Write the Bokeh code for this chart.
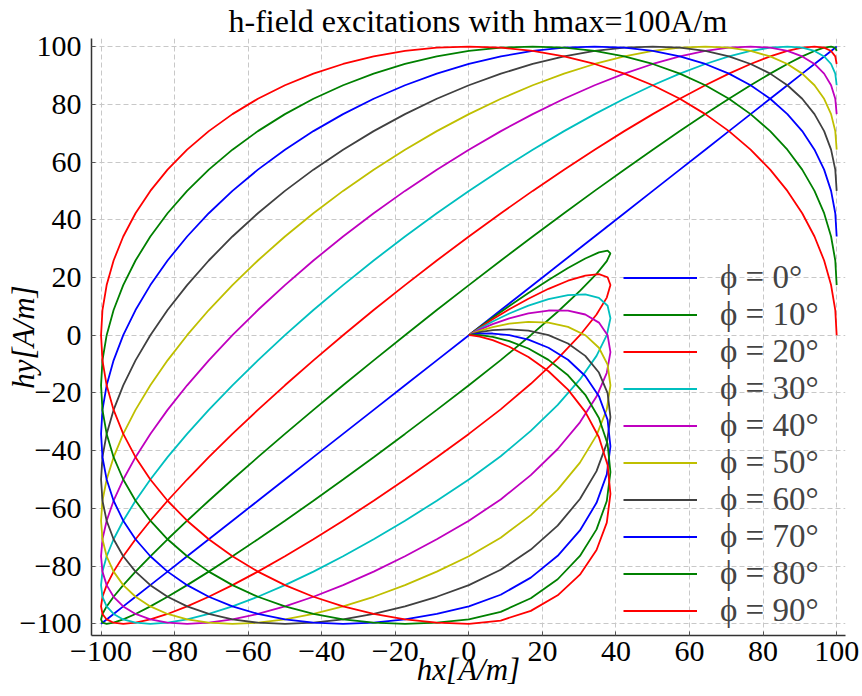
from bokeh.plotting import figure
from bokeh.models import Legend, LegendItem, FixedTicker, Range1d
from bokeh.embed import file_html
from bokeh.resources import INLINE

# ---- data ----
phi_deg = [0, 10, 20, 30, 40, 50, 60, 70, 80, 90]
colors = ["#0000ff", "#008000", "#ff0000", "#00bfbf", "#bf00bf",
          "#bfbf00", "#404040", "#0000ff", "#008000", "#ff0000"]
ticks = [-100, -80, -60, -40, -20, 0, 20, 40, 60, 80, 100]
tick_labels = ["\u2212100", "\u221280", "\u221260", "\u221240", "\u221220",
               "0", "20", "40", "60", "80", "100"]

hx = [0, 0.76, 2.97, 6.47, 10.99, 16.19, 21.65, 26.95, 31.65, 35.36, 37.72, 38.49, 37.5, 34.71, 30.2, 24.15, 16.84, 8.65, 0,
      -8.72, -17.36, -25.88, -34.2, -42.26, -50, -57.36, -64.28, -70.71, -76.6, -81.92, -86.6, -90.63, -93.97, -96.59, -98.48, -99.62, -100,
      -99.62, -98.48, -96.59, -93.97, -90.63, -86.6, -81.92, -76.6, -70.71, -64.28, -57.36, -50, -42.26, -34.2, -25.88, -17.36, -8.72, 0,
      8.72, 17.36, 25.88, 34.2, 42.26, 50, 57.36, 64.28, 70.71, 76.6, 81.92, 86.6, 90.63, 93.97, 96.59, 98.48, 99.62, 100]

hy_00 = [0, 0.76, 2.97, 6.47, 10.99, 16.19, 21.65, 26.95, 31.65, 35.36, 37.72, 38.49, 37.5, 34.71, 30.2, 24.15, 16.84, 8.65, 0,
         -8.72, -17.36, -25.88, -34.2, -42.26, -50, -57.36, -64.28, -70.71, -76.6, -81.92, -86.6, -90.63, -93.97, -96.59, -98.48, -99.62, -100,
         -99.62, -98.48, -96.59, -93.97, -90.63, -86.6, -81.92, -76.6, -70.71, -64.28, -57.36, -50, -42.26, -34.2, -25.88, -17.36, -8.72, 0,
         8.72, 17.36, 25.88, 34.2, 42.26, 50, 57.36, 64.28, 70.71, 76.6, 81.92, 86.6, 90.63, 93.97, 96.59, 98.48, 99.62, 100]

hy_10 = [0, 0.73, 2.83, 6.07, 10.13, 14.63, 19.15, 23.26, 26.56, 28.68, 29.34, 28.36, 25.65, 21.26, 15.33, 8.13, 0, -8.65, -17.36,
         -25.88, -34.2, -42.26, -50, -57.36, -64.28, -70.71, -76.6, -81.92, -86.6, -90.63, -93.97, -96.59, -98.48, -99.62, -100,
         -99.62, -98.48, -96.59, -93.97, -90.63, -86.6, -81.92, -76.6, -70.71, -64.28, -57.36, -50, -42.26, -34.2, -25.88, -17.36, -8.72, 0,
         8.72, 17.36, 25.88, 34.2, 42.26, 50, 57.36, 64.28, 70.71, 76.6, 81.92, 86.6, 90.63, 93.97, 96.59, 98.48, 99.62, 100,
         99.62, 98.48]

hy_20 = [0, 0.69, 2.61, 5.49, 8.96, 12.63, 16.07, 18.87, 20.66, 21.13, 20.07, 17.37, 13.02, 7.16, 0, -8.13, -16.84, -25.69, -34.2,
         -42.26, -50, -57.36, -64.28, -70.71, -76.6, -81.92, -86.6, -90.63, -93.97, -96.59, -98.48, -99.62, -100,
         -99.62, -98.48, -96.59, -93.97, -90.63, -86.6, -81.92, -76.6, -70.71, -64.28, -57.36, -50, -42.26, -34.2, -25.88, -17.36, -8.72, 0,
         8.72, 17.36, 25.88, 34.2, 42.26, 50, 57.36, 64.28, 70.71, 76.6, 81.92, 86.6, 90.63, 93.97, 96.59, 98.48, 99.62, 100,
         99.62, 98.48, 96.59, 93.97]

hy_30 = [0, 0.62, 2.31, 4.74, 7.52, 10.24, 12.5, 13.9, 14.13, 12.94, 10.19, 5.85, 0, -7.16, -15.33, -24.15, -33.17, -41.94, -50,
         -57.36, -64.28, -70.71, -76.6, -81.92, -86.6, -90.63, -93.97, -96.59, -98.48, -99.62, -100,
         -99.62, -98.48, -96.59, -93.97, -90.63, -86.6, -81.92, -76.6, -70.71, -64.28, -57.36, -50, -42.26, -34.2, -25.88, -17.36, -8.72, 0,
         8.72, 17.36, 25.88, 34.2, 42.26, 50, 57.36, 64.28, 70.71, 76.6, 81.92, 86.6, 90.63, 93.97, 96.59, 98.48, 99.62, 100,
         99.62, 98.48, 96.59, 93.97, 90.63, 86.6]

hy_40 = [0, 0.54, 1.94, 3.84, 5.85, 7.55, 8.55, 8.51, 7.17, 4.36, 0, -5.85, -13.02, -21.26, -30.2, -39.43, -48.49, -56.92, -64.28,
         -70.71, -76.6, -81.92, -86.6, -90.63, -93.97, -96.59, -98.48, -99.62, -100,
         -99.62, -98.48, -96.59, -93.97, -90.63, -86.6, -81.92, -76.6, -70.71, -64.28, -57.36, -50, -42.26, -34.2, -25.88, -17.36, -8.72, 0,
         8.72, 17.36, 25.88, 34.2, 42.26, 50, 57.36, 64.28, 70.71, 76.6, 81.92, 86.6, 90.63, 93.97, 96.59, 98.48, 99.62, 100,
         99.62, 98.48, 96.59, 93.97, 90.63, 86.6, 81.92, 76.6]

hy_50 = [0, 0.44, 1.51, 2.83, 4.0, 4.62, 4.34, 2.87, 0, -4.36, -10.19, -17.37, -25.65, -34.71, -44.15, -53.52, -62.34, -70.17, -76.6,
         -81.92, -86.6, -90.63, -93.97, -96.59, -98.48, -99.62, -100,
         -99.62, -98.48, -96.59, -93.97, -90.63, -86.6, -81.92, -76.6, -70.71, -64.28, -57.36, -50, -42.26, -34.2, -25.88, -17.36, -8.72, 0,
         8.72, 17.36, 25.88, 34.2, 42.26, 50, 57.36, 64.28, 70.71, 76.6, 81.92, 86.6, 90.63, 93.97, 96.59, 98.48, 99.62, 100,
         99.62, 98.48, 96.59, 93.97, 90.63, 86.6, 81.92, 76.6, 70.71, 64.28]

hy_60 = [0, 0.32, 1.03, 1.73, 2.03, 1.56, 0, -2.87, -7.17, -12.94, -20.07, -28.36, -37.5, -47.11, -56.76, -65.97, -74.29, -81.29, -86.6,
         -90.63, -93.97, -96.59, -98.48, -99.62, -100,
         -99.62, -98.48, -96.59, -93.97, -90.63, -86.6, -81.92, -76.6, -70.71, -64.28, -57.36, -50, -42.26, -34.2, -25.88, -17.36, -8.72, 0,
         8.72, 17.36, 25.88, 34.2, 42.26, 50, 57.36, 64.28, 70.71, 76.6, 81.92, 86.6, 90.63, 93.97, 96.59, 98.48, 99.62, 100,
         99.62, 98.48, 96.59, 93.97, 90.63, 86.6, 81.92, 76.6, 70.71, 64.28, 57.36, 50]

hy_70 = [0, 0.2, 0.52, 0.58, 0, -1.56, -4.34, -8.51, -14.13, -21.13, -29.34, -38.49, -48.21, -58.08, -67.64, -76.43, -83.99, -89.94, -93.97,
         -96.59, -98.48, -99.62, -100,
         -99.62, -98.48, -96.59, -93.97, -90.63, -86.6, -81.92, -76.6, -70.71, -64.28, -57.36, -50, -42.26, -34.2, -25.88, -17.36, -8.72, 0,
         8.72, 17.36, 25.88, 34.2, 42.26, 50, 57.36, 64.28, 70.71, 76.6, 81.92, 86.6, 90.63, 93.97, 96.59, 98.48, 99.62, 100,
         99.62, 98.48, 96.59, 93.97, 90.63, 86.6, 81.92, 76.6, 70.71, 64.28, 57.36, 50, 42.26, 34.2]

hy_80 = [0, 0.07, 0, -0.58, -2.03, -4.62, -8.55, -13.9, -20.66, -28.68, -37.72, -47.45, -57.45, -67.28, -76.47, -84.56, -91.14, -95.86, -98.48,
         -99.62, -100,
         -99.62, -98.48, -96.59, -93.97, -90.63, -86.6, -81.92, -76.6, -70.71, -64.28, -57.36, -50, -42.26, -34.2, -25.88, -17.36, -8.72, 0,
         8.72, 17.36, 25.88, 34.2, 42.26, 50, 57.36, 64.28, 70.71, 76.6, 81.92, 86.6, 90.63, 93.97, 96.59, 98.48, 99.62, 100,
         99.62, 98.48, 96.59, 93.97, 90.63, 86.6, 81.92, 76.6, 70.71, 64.28, 57.36, 50, 42.26, 34.2, 25.88, 17.36]

hy_90 = [0, -0.07, -0.52, -1.73, -4.0, -7.55, -12.5, -18.87, -26.56, -35.36, -44.95, -54.97, -64.95, -74.44, -82.98, -90.12, -95.51, -98.86, -100,
         -99.62, -98.48, -96.59, -93.97, -90.63, -86.6, -81.92, -76.6, -70.71, -64.28, -57.36, -50, -42.26, -34.2, -25.88, -17.36, -8.72, 0,
         8.72, 17.36, 25.88, 34.2, 42.26, 50, 57.36, 64.28, 70.71, 76.6, 81.92, 86.6, 90.63, 93.97, 96.59, 98.48, 99.62, 100,
         99.62, 98.48, 96.59, 93.97, 90.63, 86.6, 81.92, 76.6, 70.71, 64.28, 57.36, 50, 42.26, 34.2, 25.88, 17.36, 8.72, 0]

hy_series = [hy_00, hy_10, hy_20, hy_30, hy_40, hy_50, hy_60, hy_70, hy_80, hy_90]

FONT = "Liberation Serif"

p = figure(width=862, height=696,
           x_range=Range1d(-102.6, 102.4), y_range=Range1d(-104.05, 102.8),
           output_backend="svg", toolbar_location=None,
           min_border_left=91, min_border_right=17,
           min_border_top=37, min_border_bottom=61)
p.outline_line_color = None
p.background_fill_color = "white"
p.border_fill_color = "white"

p.title.text = "h-field excitations with hmax=100A/m"
p.title.text_font = FONT
p.title.text_font_size = "32px"
p.title.text_font_style = "normal"
p.title.text_color = "black"
p.title.align = "left"
p.title.offset = 137
p.title.standoff = 0

for ax in (p.xaxis[0], p.yaxis[0]):
    ax.ticker = FixedTicker(ticks=ticks)
    ax.major_label_overrides = {t: s for t, s in zip(ticks, tick_labels)}
    ax.axis_line_color = "#333333"
    ax.axis_line_width = 1.5
    ax.major_tick_in = 4
    ax.major_tick_out = 0
    ax.major_tick_line_color = "#555555"
    ax.minor_tick_line_color = None
    ax.major_label_text_font = FONT
    ax.major_label_text_font_size = "30px"
    ax.major_label_text_color = "black"
    ax.axis_label_text_font = FONT
    ax.axis_label_text_font_size = "31px"
    ax.axis_label_text_font_style = "italic"
    ax.axis_label_text_color = "black"
p.yaxis.major_label_standoff = 10
p.xaxis.major_label_standoff = 6
p.xaxis.axis_label = "hx[A/m]"
p.yaxis.axis_label = "hy[A/m]"
p.xaxis.axis_label_standoff = -12
p.yaxis.axis_label_standoff = -24

p.grid.grid_line_color = "#c8c8c8"
p.grid.grid_line_dash = "5 3"
p.grid.grid_line_width = 1

items = []
for ph, hy, c in zip(phi_deg, hy_series, colors):
    r = p.line(hx, hy, line_color=c, line_width=1.8)
    items.append(LegendItem(label="\u03d5 = %d\u00b0" % ph, renderers=[r]))

legend = Legend(items=items, location=(532, 6),
                label_text_font=FONT, label_text_font_size="33px",
                glyph_width=74, glyph_height=37, label_height=37,
                spacing=0, padding=0, margin=0, label_standoff=23,
                border_line_color=None, background_fill_alpha=0)
p.add_layout(legend)

open("out.html", "w").write(file_html(p, INLINE))
